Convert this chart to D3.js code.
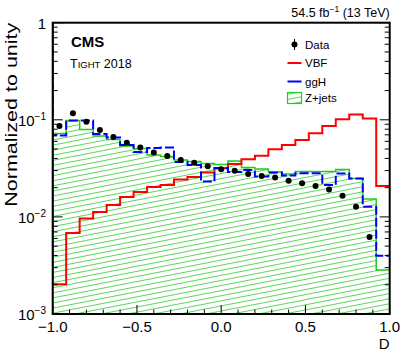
<!DOCTYPE html>
<html>
<head>
<meta charset="utf-8">
<script src="https://cdn.jsdelivr.net/npm/d3@7"></script>
<style>
  body { margin: 0; background: #fff; }
  svg { display: block; font-family: "Liberation Sans", Arial, Helvetica, sans-serif; }
</style>
</head>
<body>
<svg id="chart" width="407" height="358"></svg>
<script>
// 25 bins of width 0.08 between -1 and 1
var binEdges = d3.range(26).map(function(i) { return -1 + i * 0.08; });

var vbf = [0.00202, 0.00683, 0.00964, 0.01122, 0.01327, 0.01603, 0.01803, 0.02032, 0.02133, 0.02427,
  0.02576, 0.02864, 0.03166, 0.03508, 0.03917, 0.04266, 0.04966, 0.0550, 0.06194, 0.07261,
  0.0863, 0.1012, 0.1134, 0.1031, 0.0208];

var ggH = [0.0689, 0.0983, 0.0983, 0.0714, 0.0657, 0.0550, 0.0466, 0.0512, 0.0518, 0.0368,
  0.0342, 0.0231, 0.0319, 0.0290, 0.0304, 0.0261, 0.0287, 0.0267, 0.0281, 0.0281,
  0.0213, 0.0280, 0.0249, 0.01274, 0.00399];

var zjets = [0.0723, 0.0983, 0.0795, 0.0681, 0.0627, 0.0537, 0.0506, 0.0434, 0.0419, 0.0385,
  0.0372, 0.0355, 0.0346, 0.0376, 0.0323, 0.0311, 0.0290, 0.0277, 0.0293, 0.0293,
  0.0293, 0.0308, 0.0249, 0.0153, 0.00284];

// last bin has no data point
var data = [0.0863, 0.1167, 0.0956, 0.0785, 0.0665, 0.0581, 0.0518, 0.0460, 0.0424, 0.0385,
  0.0362, 0.0332, 0.0309, 0.0299, 0.0277, 0.0264, 0.0255, 0.0236, 0.0222, 0.0208,
  0.0192, 0.0165, 0.0127, 0.0062];

var xMajorTicks = [-1, -0.5, 0, 0.5, 1];
var xTickLabels = ['\u22121.0', '\u22120.5', '0.0', '0.5', '1.0'];
var yDecades = [0.001, 0.01, 0.1, 1];
var yTickLabels = [['10', '\u22123'], ['10', '\u22122'], ['10', '\u22121'], ['1', '']];

var legendItems = ['Data', 'VBF', 'ggH', 'Z+jets'];

var svg = d3.select('#chart'),
  margin = { top: 22.7, right: 17.3, bottom: 44, left: 52.7 },
  width = 407 - margin.left - margin.right,
  height = 358 - margin.top - margin.bottom;

var x = d3.scaleLinear().domain([-1, 1]).range([margin.left, margin.left + width]);
var y = d3.scaleLog().domain([1e-3, 1]).range([margin.top + height, margin.top]);

var red = '#ff0000', blue = '#0000ff', green = '#1fcc1f';

// hatch pattern for Z+jets
var defs = svg.append('defs');
var pat = defs.append('pattern')
  .attr('id', 'hatch')
  .attr('patternUnits', 'userSpaceOnUse')
  .attr('width', 60)
  .attr('height', 5)
  .attr('patternTransform', 'rotate(-11)');
pat.append('line')
  .attr('x1', 0).attr('x2', 60).attr('y1', 2.5).attr('y2', 2.5)
  .attr('stroke', '#33cc33').attr('stroke-width', 0.8);

defs.append('clipPath').attr('id', 'plotclip')
  .append('rect')
  .attr('x', margin.left).attr('y', margin.top)
  .attr('width', width).attr('height', height);

// step outline of a histogram
var stepPoints = function(values) {
  var pts = [];
  values.forEach(function(v, i) {
    pts.push([x(binEdges[i]), y(v)]);
    pts.push([x(binEdges[i + 1]), y(v)]);
  });
  return pts;
};

var line = d3.line();
var plot = svg.append('g').attr('clip-path', 'url(#plotclip)');

// Z+jets hatched area
var zpts = stepPoints(zjets);
var zArea = [[x(-1), y(1e-3)]].concat(zpts).concat([[x(1), y(1e-3)]]);
plot.append('path')
  .attr('d', line(zArea) + 'Z')
  .attr('fill', 'url(#hatch)');
plot.append('path')
  .attr('d', line(zArea))
  .attr('fill', 'none')
  .attr('stroke', green)
  .attr('stroke-width', 1.5);

// VBF
plot.append('path')
  .attr('d', line([[x(-1), y(1)]].concat(stepPoints(vbf))))
  .attr('fill', 'none')
  .attr('stroke', red)
  .attr('stroke-width', 2);

// ggH
plot.append('path')
  .attr('d', line([[x(-1), y(1)]].concat(stepPoints(ggH))))
  .attr('fill', 'none')
  .attr('stroke', blue)
  .attr('stroke-width', 2)
  .attr('stroke-dasharray', '9,3');

// data points
plot.selectAll('.dot')
  .data(data)
  .enter()
  .append('circle')
  .attr('cx', function(d, i) { return x((binEdges[i] + binEdges[i + 1]) / 2); })
  .attr('cy', function(d) { return y(d); })
  .attr('r', 3)
  .attr('fill', '#000');

// frame and ticks
var axes = svg.append('g').attr('stroke', '#000').attr('fill', 'none');
axes.append('rect')
  .attr('x', margin.left).attr('y', margin.top)
  .attr('width', width).attr('height', height)
  .attr('stroke-width', 2);

var xMinor = d3.range(-10, 11).map(function(i) { return i / 10; });
xMinor.forEach(function(t) {
  var major = xMajorTicks.some(function(m) { return Math.abs(m - t) < 1e-9; });
  var len = major ? 9 : 4.5;
  axes.append('line')
    .attr('x1', x(t)).attr('x2', x(t))
    .attr('y1', y(1e-3)).attr('y2', y(1e-3) - len)
    .attr('stroke-width', 1);
});

var yMinor = [];
[0.001, 0.01, 0.1].forEach(function(d) {
  for (var k = 1; k <= 9; k++) yMinor.push(d * k);
});
yMinor.push(1);
yMinor.forEach(function(t, i) {
  var major = (i % 9 === 0) || t === 1;
  var len = major ? 10 : 5;
  axes.append('line')
    .attr('x1', x(-1)).attr('x2', x(-1) + len)
    .attr('y1', y(t)).attr('y2', y(t))
    .attr('stroke-width', 1);
  axes.append('line')
    .attr('x1', x(1)).attr('x2', x(1) - len)
    .attr('y1', y(t)).attr('y2', y(t))
    .attr('stroke-width', 1);
});

// tick labels
svg.selectAll('.xlab')
  .data(xMajorTicks)
  .enter()
  .append('text')
  .attr('x', function(d) { return x(d); })
  .attr('y', 331.5)
  .attr('text-anchor', 'middle')
  .attr('font-size', 15)
  .text(function(d, i) { return xTickLabels[i]; });

var ylab = svg.selectAll('.ylab')
  .data(yDecades)
  .enter()
  .append('text')
  .attr('x', 46)
  .attr('y', function(d) { return y(d) + 6; })
  .attr('text-anchor', 'end')
  .attr('font-size', 15);
ylab.append('tspan').text(function(d, i) { return yTickLabels[i][0]; });
ylab.append('tspan')
  .attr('dy', -6)
  .attr('font-size', 10)
  .text(function(d, i) { return yTickLabels[i][1]; });

// axis titles
svg.append('text')
  .attr('x', x(1))
  .attr('y', 348.5)
  .attr('text-anchor', 'end')
  .attr('font-size', 15)
  .text('D');

svg.append('text')
  .attr('transform', 'translate(17,' + y(1) + ') rotate(-90)')
  .attr('text-anchor', 'end')
  .attr('font-size', 16.5)
  .attr('textLength', 184)
  .attr('lengthAdjust', 'spacingAndGlyphs')
  .text('Normalized to unity');

// header texts
var lumi = svg.append('text')
  .attr('x', x(1))
  .attr('y', 16.5)
  .attr('text-anchor', 'end')
  .attr('font-size', 12.5);
lumi.append('tspan').text('54.5 fb');
lumi.append('tspan').attr('dy', -4.5).attr('font-size', 8.5).text('\u22121');
lumi.append('tspan').attr('dy', 4.5).text(' (13 TeV)');

svg.append('text')
  .attr('x', 71)
  .attr('y', 47)
  .attr('font-size', 15)
  .attr('font-weight', 'bold')
  .text('CMS');

var tight = svg.append('text')
  .attr('x', 70)
  .attr('y', 67.5)
  .attr('font-size', 12.5);
tight.append('tspan').text('T');
tight.append('tspan').attr('font-size', 9.5).text('IGHT');
tight.append('tspan').text(' 2018');

// legend
var leg = svg.append('g');
var legY = [44.5, 63, 81.5, 98];
var lx = 287.5;
leg.selectAll('text')
  .data(legendItems)
  .enter()
  .append('text')
  .attr('x', 305)
  .attr('y', function(d, i) { return legY[i] + 4.2; })
  .attr('font-size', 11.5)
  .text(function(d) { return d; });

leg.append('line')
  .attr('x1', lx + 7).attr('x2', lx + 7)
  .attr('y1', legY[0] - 5.5).attr('y2', legY[0] + 5.5)
  .attr('stroke', '#000').attr('stroke-width', 1);
leg.append('circle')
  .attr('cx', lx + 7).attr('cy', legY[0]).attr('r', 3).attr('fill', '#000');
leg.append('line')
  .attr('x1', lx).attr('x2', lx + 14)
  .attr('y1', legY[1]).attr('y2', legY[1])
  .attr('stroke', red).attr('stroke-width', 2);
leg.append('line')
  .attr('x1', lx).attr('x2', lx + 14)
  .attr('y1', legY[2]).attr('y2', legY[2])
  .attr('stroke', blue).attr('stroke-width', 2);
leg.append('rect')
  .attr('x', lx).attr('y', legY[3] - 5.5)
  .attr('width', 14).attr('height', 11)
  .attr('fill', 'url(#hatch)')
  .attr('stroke', green).attr('stroke-width', 1.2);
</script>
</body>
</html>
